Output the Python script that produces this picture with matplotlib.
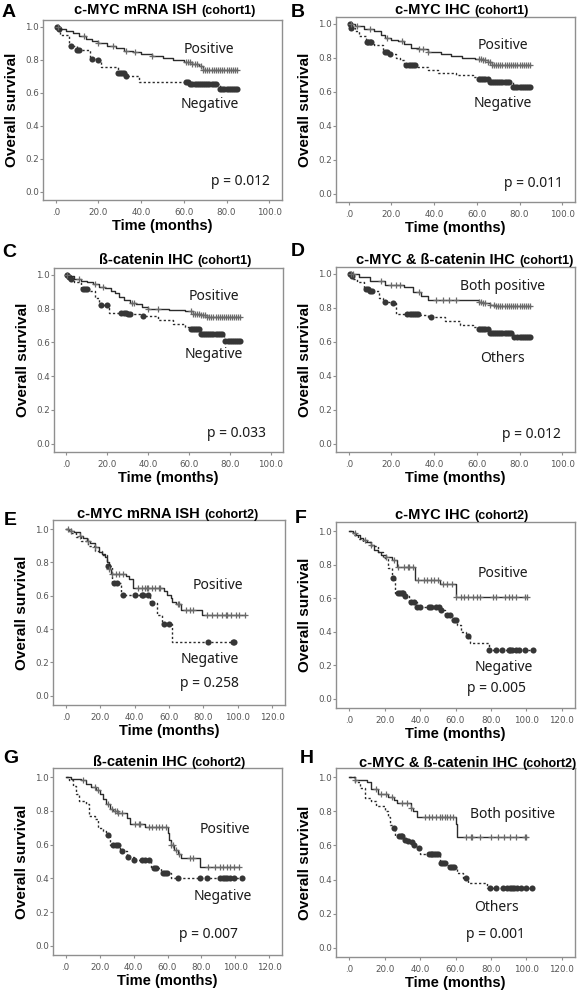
import numpy as np
import matplotlib
matplotlib.use("Agg")
import matplotlib.pyplot as plt

W, H = 577, 992

# ---- data (time in months, survival fraction) ----
# A: c-MYC mRNA ISH, cohort1
a_pos_t = [0, 2, 5, 8, 11, 14, 17, 20, 24, 28, 32, 36, 40, 45, 50, 55, 60, 64, 67, 69]
a_pos_s = [1.0, 0.985, 0.975, 0.96, 0.945, 0.925, 0.91, 0.9, 0.885, 0.87, 0.855, 0.845, 0.835, 0.825, 0.81, 0.80, 0.785, 0.775, 0.76, 0.74]
a_pos_c = [1, 13, 20, 27, 33, 37, 45, 61, 62, 63, 64, 65, 66, 68, 69, 70, 71, 72, 73, 74, 75, 76, 77, 78, 79, 80, 81, 82, 83, 84, 85]
a_neg_t = [0, 1, 2, 6, 10, 16, 20, 21, 29, 33, 39, 63, 77]
a_neg_s = [1.0, 0.985, 0.95, 0.88, 0.86, 0.805, 0.795, 0.755, 0.72, 0.70, 0.665, 0.655, 0.62]
a_neg_c = [0.5, 1.5, 7, 10, 11, 17, 20, 29, 30, 31, 32, 33, 61, 62, 63, 64, 65, 66, 67, 68, 69, 70, 71, 72, 73, 74, 75, 77, 78, 79, 80, 81, 82, 83, 84, 85]

# B: c-MYC IHC, cohort1
b_pos_t = [0, 3, 7, 12, 15, 17, 20, 23, 26, 29, 33, 37, 43, 48, 53, 59, 63, 65, 67]
b_pos_s = [1.0, 0.985, 0.97, 0.955, 0.935, 0.915, 0.905, 0.90, 0.88, 0.86, 0.85, 0.835, 0.82, 0.81, 0.80, 0.79, 0.785, 0.775, 0.76]
b_pos_c = [1, 4, 10, 18, 25, 33, 35, 37, 61, 62, 63, 64, 65, 66, 67, 68, 69, 70, 71, 72, 73, 74, 75, 76, 77, 78, 79, 80, 81, 82, 83, 84, 85]
b_neg_t = [0, 1, 3, 5, 8, 12, 16, 19, 22, 24, 26, 32, 37, 42, 50, 58, 61, 66, 77]
b_neg_s = [1.0, 0.975, 0.955, 0.93, 0.895, 0.875, 0.835, 0.82, 0.80, 0.785, 0.76, 0.745, 0.725, 0.71, 0.70, 0.685, 0.675, 0.655, 0.625]
b_neg_c = [0.5, 1, 8.5, 9, 10, 10.5, 17, 18, 19.5, 27, 28, 29, 30, 31, 61, 62, 63, 64, 65, 66, 67, 68, 69, 70, 71, 72, 73, 74, 75, 77, 78, 79, 80, 81, 82, 83, 84, 85]

# C: beta-catenin IHC, cohort1
c_pos_t = [0, 1, 4, 7, 10, 13, 16, 19, 22, 24, 26, 28, 31, 34, 37, 40, 50, 58, 62, 66, 69]
c_pos_s = [1.0, 0.99, 0.975, 0.965, 0.955, 0.945, 0.93, 0.92, 0.905, 0.89, 0.87, 0.85, 0.835, 0.825, 0.81, 0.795, 0.79, 0.785, 0.77, 0.76, 0.75]
c_pos_c = [0.5, 6, 14, 18, 32, 33, 40, 45, 61, 62, 63, 64, 65, 66, 67, 68, 69, 70, 71, 72, 73, 74, 75, 76, 77, 78, 79, 80, 81, 82, 83, 84, 85]
c_neg_t = [0, 1, 2, 4, 7, 11, 14, 16, 21, 30, 36, 45, 52, 58, 61, 66, 77]
c_neg_s = [1.0, 0.985, 0.975, 0.96, 0.915, 0.905, 0.86, 0.82, 0.772, 0.765, 0.755, 0.73, 0.71, 0.69, 0.68, 0.65, 0.61]
c_neg_c = [0.5, 1.5, 2.5, 8, 9, 10, 17, 20, 27, 28, 29, 30, 31, 37.5, 61, 62, 63, 64, 65, 66, 67, 68, 69, 70, 71, 72, 73, 74, 75, 76, 77.5, 79, 80, 81, 82, 83, 84, 85]

# D: c-MYC & beta-catenin IHC, cohort1
d_pos_t = [0, 5, 10, 17, 26, 30, 34, 37, 61, 63, 66, 69]
d_pos_s = [1.0, 0.98, 0.96, 0.935, 0.92, 0.895, 0.87, 0.845, 0.835, 0.825, 0.815, 0.81]
d_pos_c = [1, 2, 15, 20, 22, 24, 33, 41, 44, 47, 50, 61, 62, 63, 64, 66, 68, 69, 70, 71, 72, 73, 74, 75, 76, 77, 78, 79, 80, 81, 82, 83, 84, 85]
d_neg_t = [0, 1, 2, 4, 7, 10, 14, 16, 20, 22, 33, 37, 45, 52, 58, 61, 66, 77]
d_neg_s = [1.0, 0.985, 0.97, 0.95, 0.91, 0.90, 0.86, 0.835, 0.825, 0.765, 0.755, 0.745, 0.72, 0.70, 0.685, 0.675, 0.65, 0.625]
d_neg_c = [0.5, 1.5, 8, 9, 10, 11, 17, 20.5, 27.5, 28.5, 29.5, 30.5, 31.5, 32.5, 38.5, 61, 62, 63, 64, 65, 66, 67, 68, 69, 70, 71, 72, 73, 74, 75, 76, 77.5, 79, 80, 81, 82, 83, 84, 85]

# E: c-MYC mRNA ISH, cohort2
e_pos_t = [0, 2, 5, 8, 10, 12, 14, 17, 19, 21, 23, 24, 25, 26, 35, 37, 39, 57, 59, 61, 62, 64, 67, 79]
e_pos_s = [1.0, 0.99, 0.98, 0.96, 0.945, 0.93, 0.915, 0.89, 0.865, 0.85, 0.835, 0.80, 0.76, 0.73, 0.72, 0.70, 0.645, 0.63, 0.605, 0.585, 0.565, 0.55, 0.515, 0.485]
e_pos_c = [1, 3, 8, 13, 17, 25, 27, 29, 31, 33, 42, 44, 46, 47, 48, 50, 52, 54, 55, 65, 66, 70, 72, 74, 82, 85, 88, 91, 93, 94, 96, 99, 101, 104]
e_neg_t = [0, 3, 6, 9, 13, 17, 21, 24, 27, 32, 49, 53, 56, 62]
e_neg_s = [1.0, 0.975, 0.955, 0.93, 0.90, 0.87, 0.845, 0.776, 0.676, 0.606, 0.556, 0.486, 0.432, 0.32]
e_neg_c = [24.5, 28, 29.5, 33, 40, 44, 45, 47.5, 50, 57, 60, 82.5, 97, 98]

# F: c-MYC IHC, cohort2
f_pos_t = [0, 2, 4, 6, 8, 10, 12, 14, 16, 18, 21, 24, 27, 37, 51, 60]
f_pos_s = [1.0, 0.99, 0.975, 0.96, 0.95, 0.935, 0.915, 0.89, 0.875, 0.86, 0.845, 0.83, 0.785, 0.71, 0.685, 0.606]
f_pos_c = [3.5, 9, 12, 21, 25, 27.5, 31, 33, 34, 36, 39, 42, 44, 46, 48, 50, 53, 55, 58, 60.5, 63, 65, 67, 70, 72, 74, 81, 83, 88, 90, 92, 94, 99, 100.5]
f_neg_t = [0, 2, 5, 8, 12, 16, 19, 22, 24, 26, 31, 34, 38, 45, 51, 54, 58, 61, 63, 66, 68, 79]
f_neg_s = [1.0, 0.975, 0.955, 0.935, 0.91, 0.875, 0.84, 0.78, 0.72, 0.63, 0.615, 0.58, 0.55, 0.545, 0.53, 0.50, 0.47, 0.44, 0.40, 0.372, 0.333, 0.293]
f_neg_c = [24.5, 27.5, 28.5, 29.5, 30.5, 31.5, 35, 36.5, 38.5, 40, 45, 46, 49, 50.5, 52, 55, 57, 59, 60.5, 67, 79, 83, 86.5, 90, 91, 92, 94, 96, 99, 103.5]

# G: beta-catenin IHC, cohort2
g_pos_t = [0, 3, 9, 12, 15, 18, 20, 22, 24, 26, 28, 31, 36, 38, 47, 60, 61, 62, 64, 66, 68, 79]
g_pos_s = [1.0, 0.99, 0.985, 0.96, 0.94, 0.925, 0.90, 0.87, 0.84, 0.81, 0.80, 0.79, 0.76, 0.72, 0.705, 0.67, 0.63, 0.60, 0.57, 0.545, 0.52, 0.47]
g_pos_c = [10, 17, 19, 25, 27, 29, 30, 31, 33, 41, 43, 44, 49, 51, 53, 55, 57, 59, 62, 63, 65, 67, 73, 75, 84, 88, 91, 93, 95, 97, 99, 102]
g_neg_t = [0, 2, 4, 6, 8, 12, 14, 17, 19, 22, 24, 26, 32, 36, 40, 50, 56, 62]
g_neg_s = [1.0, 0.985, 0.95, 0.90, 0.86, 0.84, 0.77, 0.75, 0.70, 0.68, 0.66, 0.60, 0.563, 0.527, 0.507, 0.463, 0.433, 0.40]
g_neg_c = [25, 28, 29.5, 31, 33, 37, 40, 45, 47, 49, 52, 53, 57.5, 58.5, 59.5, 66, 79, 83.5, 91, 93, 94, 95, 97, 99, 104]

# H: c-MYC & beta-catenin IHC, cohort2
h_pos_t = [0, 3, 10, 12, 16, 22, 25, 27, 35, 36, 38, 60, 61]
h_pos_s = [1.0, 0.985, 0.975, 0.93, 0.90, 0.885, 0.87, 0.85, 0.82, 0.80, 0.765, 0.725, 0.65]
h_pos_c = [3.5, 15, 18, 21, 24, 30, 32.5, 35, 43, 45, 47, 49, 51, 52.5, 54, 55, 57, 58.5, 66, 68.5, 69.5, 74, 80, 84, 87.5, 91, 94, 99, 100]
h_neg_t = [0, 3, 6, 9, 12, 15, 20, 22, 23, 24.5, 26, 31, 33, 35, 36, 39, 40, 51, 56, 61, 64, 67, 78]
h_neg_s = [1.0, 0.97, 0.94, 0.88, 0.86, 0.83, 0.80, 0.765, 0.72, 0.705, 0.655, 0.63, 0.625, 0.62, 0.60, 0.585, 0.55, 0.50, 0.475, 0.44, 0.41, 0.38, 0.35]
h_neg_c = [25.5, 28, 29, 30, 31.5, 33, 35.5, 36.5, 39.5, 45, 46, 47, 48, 49, 50, 52, 53, 54, 57, 58, 59, 65.7, 79.5, 83, 87, 89, 91, 92, 93, 95, 97, 100, 103]

# ---- layout (pixel boxes: left, right, top, bottom) ----
panels = [
    dict(letter="A", title="c-MYC mRNA ISH", cohort="(cohort1)", box=(43, 282, 20, 200), tx=197, ty=14, lxy=(2, 17),
         pos=(a_pos_t, a_pos_s, a_pos_c), neg=(a_neg_t, a_neg_s, a_neg_c),
         texts=[("Positive", 71.7, 0.86), ("Negative", 72.2, 0.528), ("p = 0.012", 86.3, 0.06)]),
    dict(letter="B", title="c-MYC IHC", cohort="(cohort1)", box=(336, 575, 17, 202), tx=470, ty=14, lxy=(291, 17),
         pos=(b_pos_t, b_pos_s, b_pos_c), neg=(b_neg_t, b_neg_s, b_neg_c),
         texts=[("Positive", 72.4, 0.87), ("Negative", 72.4, 0.53), ("p = 0.011", 86.6, 0.06)]),
    dict(letter="C", title="ß-catenin IHC", cohort="(cohort1)", box=(54, 283, 268, 452), tx=193, ty=264, lxy=(2, 257),
         pos=(c_pos_t, c_pos_s, c_pos_c), neg=(c_neg_t, c_neg_s, c_neg_c),
         texts=[("Positive", 72.4, 0.87), ("Negative", 72.4, 0.53), ("p = 0.033", 83, 0.06)]),
    dict(letter="D", title="c-MYC & ß-catenin IHC", cohort="(cohort1)", box=(336, 575, 267, 452), tx=515, ty=264, lxy=(291, 256),
         pos=(d_pos_t, d_pos_s, d_pos_c), neg=(d_neg_t, d_neg_s, d_neg_c),
         texts=[("Both positive", 72.1, 0.926), ("Others", 72.1, 0.5), ("p = 0.012", 85.4, 0.054)]),
    dict(letter="E", title="c-MYC mRNA ISH", cohort="(cohort2)", box=(53, 285, 520, 705), tx=200, ty=518, lxy=(4, 525),
         pos=(e_pos_t, e_pos_s, e_pos_c), neg=(e_neg_t, e_neg_s, e_neg_c),
         texts=[("Positive", 88.7, 0.66), ("Negative", 83.9, 0.216), ("p = 0.258", 83.5, 0.072)]),
    dict(letter="F", title="c-MYC IHC", cohort="(cohort2)", box=(336, 575, 522, 708), tx=470, ty=519, lxy=(295, 523),
         pos=(f_pos_t, f_pos_s, f_pos_c), neg=(f_neg_t, f_neg_s, f_neg_c),
         texts=[("Positive", 87, 0.749), ("Negative", 87.5, 0.184), ("p = 0.005", 83.3, 0.06)]),
    dict(letter="G", title="ß-catenin IHC", cohort="(cohort2)", box=(53, 282, 768, 955), tx=187, ty=766, lxy=(3, 763),
         pos=(g_pos_t, g_pos_s, g_pos_c), neg=(g_neg_t, g_neg_s, g_neg_c),
         texts=[("Positive", 93.7, 0.69), ("Negative", 92.7, 0.29), ("p = 0.007", 83.9, 0.066)]),
    dict(letter="H", title="c-MYC & ß-catenin IHC", cohort="(cohort2)", box=(336, 575, 768, 957), tx=518, ty=767, lxy=(300, 763),
         pos=(h_pos_t, h_pos_s, h_pos_c), neg=(h_neg_t, h_neg_s, h_neg_c),
         texts=[("Both positive", 92.2, 0.784), ("Others", 83, 0.235), ("p = 0.001", 82.5, 0.078)]),
]

LINE = "#2b2b2b"
BOLD = ["Liberation Sans", "DejaVu Sans"]
LBL = ["Noto Sans", "DejaVu Sans"]


def at_censor(t, s, c):
    idx = np.searchsorted(t, c, side="right") - 1
    return np.asarray(s)[idx]


def draw_curve(ax, t, s, c, solid):
    t = np.asarray(t, float)
    s = np.asarray(s, float)
    end = max(c)
    tt = np.append(t, end)
    ss = np.append(s, s[-1])
    if solid:
        ax.step(tt, ss, where="post", color=LINE, lw=1.0)
        ax.plot(c, at_censor(t, s, c), ls="none", marker="+", ms=4.5, mew=0.9, color="#6a6a6a")
    else:
        ax.step(tt, ss, where="post", color=LINE, lw=1.0, ls=(0, (1.6, 1.6)))
        ax.plot(c, at_censor(t, s, c), ls="none", marker="o", ms=4.4, mew=0, color="#363636")


fig = plt.figure(figsize=(W / 100, H / 100), dpi=100)

for p in panels:
    l, r, t, b = p["box"]
    ax = fig.add_axes([l / W, 1 - b / H, (r - l) / W, (b - t) / H])
    cohort2 = p["cohort"] == "(cohort2)"

    draw_curve(ax, *p["neg"], solid=False)
    draw_curve(ax, *p["pos"], solid=True)

    if cohort2:
        ax.set_xlim(-7.5, 127.5)
        ax.set_ylim(-0.055, 1.055)
        xt = np.arange(0, 121, 20)
    else:
        ax.set_xlim(-6, 106)
        ax.set_ylim(-0.05, 1.04)
        xt = np.arange(0, 101, 20)
    ax.set_xticks(xt)
    ax.set_xticklabels([".0"] + ["%.1f" % v for v in xt[1:]])
    yt = np.arange(0, 1.01, 0.2)
    ax.set_yticks(yt)
    ax.set_yticklabels(["%.1f" % v for v in yt])

    for sp in ax.spines.values():
        sp.set_color("#8f8f8f")
        sp.set_linewidth(1.0)
    ax.tick_params(axis="x", length=2.5, width=0.8, color="#8f8f8f", pad=3.5,
                   labelsize=6.3, labelcolor="#555555")
    ax.tick_params(axis="y", length=2.0, width=0.8, color="#8f8f8f", pad=0.8,
                   labelsize=6.3, labelcolor="#555555")

    ax.set_ylabel("Overall survival", fontsize=11, fontweight="bold", family=BOLD)
    ax.yaxis.set_label_coords(-24 / (r - l), 0.5)
    ax.set_xlabel("Time (months)", fontsize=10.5, fontweight="bold", family=BOLD)
    ax.xaxis.set_label_coords(0.5, -19 / (b - t))

    for txt, x, y in p["texts"]:
        ax.text(x, y, txt, ha="center", va="center", fontsize=10, family=LBL, color="#1a1a1a")

    # title: main part + smaller cohort tag
    fig.text(p["tx"] / W, 1 - p["ty"] / H, p["title"], ha="right", va="baseline",
             fontsize=10.5, fontweight="bold", family=BOLD)
    fig.text((p["tx"] + 4) / W, 1 - p["ty"] / H, p["cohort"], ha="left", va="baseline",
             fontsize=9, fontweight="bold", family=BOLD)
    lx, ly = p["lxy"]
    fig.text(lx / W, 1 - ly / H, p["letter"], ha="left", va="baseline",
             fontsize=14, fontweight="bold", family=BOLD)

fig.savefig("out.png", dpi=100)
